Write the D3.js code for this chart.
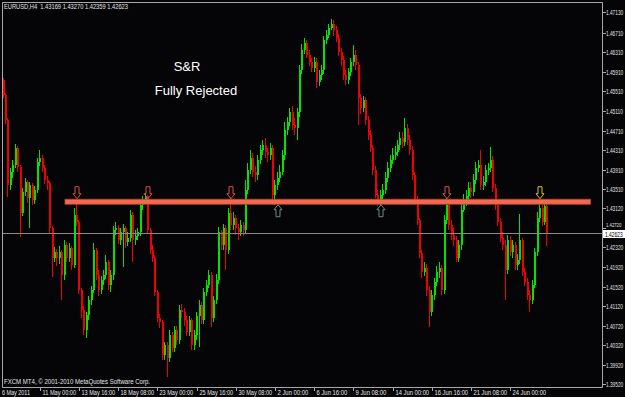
<!DOCTYPE html>
<html>
<head>
<meta charset="utf-8">
<script src="https://cdn.jsdelivr.net/npm/d3@7"></script>
<style>
html, body { margin: 0; padding: 0; background: #050508; }
svg { display: block; }
text { font-family: "Liberation Sans", Arial, sans-serif; }
</style>
</head>
<body>
<svg id="chart" width="625" height="397"></svg>
<script>
// EURUSD H4, 6 May 2011 .. 24 Jun 2011 (one value per bar)
const symbol = "EURUSD,H4";
const firstOpen = 1.4574;

const closes = [
  1.4544,1.4492,1.4360,1.4386,1.4401,1.4436,1.4397,1.4302,1.4345,1.4366,
  1.4333,1.4360,1.4329,1.4349,1.4407,1.4415,1.4395,1.4370,1.4364,1.4272,
  1.4211,1.4223,1.4211,1.4223,1.4176,1.4237,1.4211,1.4231,1.4196,1.4298,
  1.4284,1.4145,1.4104,1.4063,1.4094,1.4124,1.4145,1.4227,1.4176,1.4145,
  1.4165,1.4176,1.4202,1.4155,1.4176,1.4267,1.4272,1.4247,1.4263,1.4272,
  1.4243,1.4251,1.4298,1.4247,1.4255,1.4263,1.4319,1.4329,1.4337,1.4267,
  1.4227,1.4211,1.4141,1.4088,1.4079,1.4012,1.4032,1.4006,1.4053,1.4026,
  1.4063,1.4042,1.4104,1.4100,1.4083,1.4059,1.4083,1.4032,1.4053,1.4092,
  1.4114,1.4083,1.4141,1.4155,1.4176,1.4088,1.4124,1.4165,1.4263,1.4237,
  1.4272,1.4227,1.4302,1.4278,1.4292,1.4272,1.4263,1.4278,1.4267,1.4349,
  1.4390,1.4415,1.4386,1.4380,1.4411,1.4431,1.4442,1.4427,1.4421,1.4436,
  1.4339,1.4360,1.4374,1.4386,1.4421,1.4472,1.4488,1.4509,1.4482,1.4476,
  1.4509,1.4595,1.4636,1.4650,1.4626,1.4611,1.4599,1.4611,1.4570,1.4585,
  1.4595,1.4656,1.4667,1.4681,1.4689,1.4677,1.4661,1.4632,1.4615,1.4585,
  1.4574,1.4591,1.4611,1.4626,1.4605,1.4538,1.4517,1.4533,1.4492,1.4462,
  1.4436,1.4390,1.4339,1.4325,1.4339,1.4349,1.4374,1.4395,1.4411,1.4421,
  1.4427,1.4442,1.4456,1.4448,1.4476,1.4452,1.4431,1.4380,1.4329,1.4288,
  1.4221,1.4182,1.4190,1.4145,1.4100,1.4135,1.4161,1.4182,1.4190,1.4145,
  1.4288,1.4319,1.4278,1.4257,1.4247,1.4211,1.4237,1.4308,1.4329,1.4337,
  1.4354,1.4345,1.4370,1.4395,1.4401,1.4360,1.4366,1.4390,1.4395,1.4411,
  1.4354,1.4319,1.4284,1.4251,1.4237,1.4186,1.4247,1.4223,1.4237,1.4196,
  1.4206,1.4247,1.4182,1.4161,1.4135,1.4124,1.4155,1.4223,1.4292,1.4313,
  1.4284,1.43169,1.42623
];

const highs = [
  1.4579,1.4548,1.4497,1.4395,1.4411,1.4444,1.4440,1.4401,1.4354,1.4374,
  1.4370,1.4366,1.4364,1.4358,1.4415,1.4431,1.4421,1.4401,1.4378,1.4368,
  1.4276,1.4233,1.4229,1.4235,1.4227,1.4247,1.4243,1.4241,1.4235,1.4313,
  1.4329,1.4288,1.4149,1.4112,1.4100,1.4133,1.4153,1.4241,1.4231,1.4186,
  1.4174,1.4186,1.4217,1.4206,1.4186,1.4276,1.4284,1.4278,1.4272,1.4280,
  1.4276,1.4263,1.4308,1.4304,1.4267,1.4272,1.4329,1.4337,1.4343,1.4339,
  1.4272,1.4237,1.4217,1.4145,1.4096,1.4083,1.4038,1.4038,1.4063,1.4059,
  1.4071,1.4071,1.4114,1.4116,1.4108,1.4092,1.4092,1.4088,1.4063,1.4100,
  1.4124,1.4120,1.4149,1.4165,1.4186,1.4182,1.4133,1.4178,1.4274,1.4267,
  1.4280,1.4278,1.4313,1.4335,1.4304,1.4298,1.4280,1.4288,1.4284,1.4370,
  1.4405,1.4431,1.4425,1.4399,1.4421,1.4442,1.4452,1.4456,1.4436,1.4446,
  1.4442,1.4370,1.4386,1.4401,1.4431,1.4488,1.4499,1.4517,1.4521,1.4497,
  1.4517,1.4605,1.4648,1.4661,1.4656,1.4636,1.4620,1.4622,1.4620,1.4595,
  1.4605,1.4665,1.4677,1.4689,1.4700,1.4697,1.4685,1.4669,1.4640,1.4624,
  1.4595,1.4599,1.4620,1.4646,1.4636,1.4611,1.4546,1.4542,1.4540,1.4501,
  1.4472,1.4442,1.4399,1.4349,1.4349,1.4362,1.4386,1.4407,1.4421,1.4436,
  1.4440,1.4452,1.4468,1.4468,1.4497,1.4484,1.4462,1.4440,1.4386,1.4337,
  1.4292,1.4227,1.4202,1.4198,1.4153,1.4145,1.4169,1.4194,1.4202,1.4196,
  1.4298,1.4333,1.4325,1.4288,1.4272,1.4255,1.4247,1.4321,1.4341,1.4349,
  1.4366,1.4366,1.4382,1.4407,1.4411,1.4431,1.4378,1.4401,1.4405,1.4438,
  1.4419,1.4362,1.4329,1.4292,1.4263,1.4247,1.4257,1.4255,1.4247,1.4243,
  1.4219,1.4300,1.4251,1.4190,1.4169,1.4145,1.4165,1.4231,1.4304,1.4321,
  1.4319,1.4323,1.43270
];

const lows = [
  1.4538,1.4484,1.4335,1.4349,1.4374,1.4395,1.4386,1.4253,1.4296,1.4337,
  1.4323,1.4272,1.4319,1.4321,1.4343,1.4399,1.4386,1.4362,1.4349,1.4261,
  1.4172,1.4202,1.4194,1.4198,1.4124,1.4165,1.4202,1.4202,1.4186,1.4190,
  1.4276,1.4137,1.4088,1.4053,1.4047,1.4083,1.4114,1.4139,1.4165,1.4133,
  1.4137,1.4155,1.4168,1.4145,1.4141,1.4165,1.4257,1.4239,1.4237,1.4192,
  1.4231,1.4235,1.4243,1.4202,1.4237,1.4247,1.4255,1.4308,1.4321,1.4259,
  1.4219,1.4202,1.4133,1.4079,1.4067,1.4001,1.4001,1.3967,1.3997,1.4018,
  1.4018,1.4032,1.4034,1.4088,1.4071,1.4051,1.4051,1.4022,1.4022,1.4042,
  1.4028,1.4075,1.4075,1.4133,1.4149,1.4069,1.4079,1.4116,1.4157,1.4227,
  1.4227,1.4186,1.4219,1.4267,1.4267,1.4257,1.4247,1.4255,1.4255,1.4261,
  1.4341,1.4382,1.4376,1.4366,1.4370,1.4403,1.4421,1.4415,1.4407,1.4411,
  1.4319,1.4319,1.4349,1.4366,1.4380,1.4411,1.4462,1.4480,1.4472,1.4462,
  1.4452,1.4499,1.4587,1.4628,1.4620,1.4603,1.4591,1.4591,1.4558,1.4562,
  1.4574,1.4587,1.4648,1.4661,1.4677,1.4665,1.4652,1.4624,1.4603,1.4574,
  1.4564,1.4566,1.4583,1.4603,1.4595,1.4482,1.4505,1.4509,1.4482,1.4452,
  1.4427,1.4380,1.4333,1.4317,1.4317,1.4329,1.4341,1.4366,1.4386,1.4403,
  1.4411,1.4419,1.4431,1.4436,1.4440,1.4442,1.4421,1.4370,1.4319,1.4278,
  1.4211,1.4170,1.4174,1.4133,1.4069,1.4092,1.4124,1.4153,1.4169,1.4135,
  1.4137,1.4280,1.4267,1.4247,1.4235,1.4202,1.4202,1.4227,1.4304,1.4317,
  1.4329,1.4333,1.4337,1.4362,1.4386,1.4349,1.4349,1.4358,1.4380,1.4386,
  1.4345,1.4308,1.4276,1.4243,1.4227,1.4124,1.4178,1.4215,1.4211,1.4186,
  1.4186,1.4198,1.4174,1.4153,1.4124,1.4100,1.4116,1.4149,1.4215,1.4284,
  1.4276,1.4278,1.42359
];

const timeLabels = ["6 May 2011","11 May 00:00","13 May 16:00","18 May 08:00","23 May 00:00",
  "25 May 16:00","30 May 08:00","2 Jun 00:00","6 Jun 16:00","9 Jun 08:00","14 Jun 00:00",
  "16 Jun 16:00","21 Jun 08:00","24 Jun 00:00"];
const timeLabelBars = [0,16,32,48,64,80,96,112,128,144,160,176,192,208];

const priceLabels = ["1.47130","1.46710","1.46310","1.45910","1.45510","1.45110","1.44710",
  "1.44310","1.43910","1.43510","1.43120","1.42720","1.42320","1.41920","1.41520",
  "1.41120","1.40720","1.40320","1.39920","1.39520"];

// support / resistance line and the marks on it
const srLevel = 1.43255;
const srFromBar = 25.5, srToBar = 240;
const downArrowBars = [30, 59, 93, 181, 219];
const downArrowColors = ["#d9532e", "#d9532e", "#d9532e", "#d9532e", "#d8c21a"];
const upArrowBars = [112, 154];

const notes = ["S&R", "Fully Rejected"];

//------------ setup ------------------------------------------------------------//
const svg = d3.select("#chart");
const W = 625, H = 397;
const plot = {left: 2, top: 2, right: 602, bottom: 387};

const x = d3.scaleLinear().domain([0, 222]).range([2.5, 546.4]);
const y = d3.scaleLinear().domain([1.3952, 1.4713]).range([384.3, 12.3]);

const bull = "#00e400", bear = "#f00000";
const textColor = "#e4e4e4";

const bars = closes.map((c, i) => ({
    i: i,
    open: i === 0 ? firstOpen : closes[i - 1],
    high: highs[i],
    low: lows[i],
    close: c
}));

svg.append("rect").attr("width", W).attr("height", H).attr("fill", "#050508");

svg.append("defs").append("clipPath").attr("id", "plotClip")
    .append("rect")
    .attr("x", plot.left + 1).attr("y", plot.top + 1)
    .attr("width", plot.right - plot.left - 1)
    .attr("height", plot.bottom - plot.top - 1);

const layer = svg.append("g").attr("clip-path", "url(#plotClip)");

//------------ candles ----------------------------------------------------------//
const candles = layer.append("g")
    .attr("shape-rendering", "crispEdges")
    .selectAll("g")
    .data(bars)
    .join("g");

candles.append("line")
    .attr("x1", d => Math.round(x(d.i)) + 0.5)
    .attr("x2", d => Math.round(x(d.i)) + 0.5)
    .attr("y1", d => y(d.high))
    .attr("y2", d => y(d.low))
    .attr("stroke", d => d.close >= d.open ? bull : bear)
    .attr("stroke-width", 1);

candles.append("rect")
    .attr("x", d => Math.round(x(d.i)))
    .attr("y", d => y(Math.max(d.open, d.close)))
    .attr("width", 2)
    .attr("height", d => Math.max(1, Math.abs(y(d.open) - y(d.close))))
    .attr("fill", d => d.close >= d.open ? bull : bear);

//------------ current price line -----------------------------------------------//
const last = bars[bars.length - 1];
layer.append("line")
    .attr("x1", plot.left).attr("x2", plot.right)
    .attr("y1", Math.round(y(last.close)) + 0.5)
    .attr("y2", Math.round(y(last.close)) + 0.5)
    .attr("stroke", "#8a8a8a").attr("stroke-width", 1);

//------------ S&R band and arrows ----------------------------------------------//
const srY = y(srLevel);
layer.append("rect")
    .attr("x", x(srFromBar))
    .attr("y", srY - 2.5)
    .attr("width", x(srToBar) - x(srFromBar))
    .attr("height", 5)
    .attr("fill", "#f36a4f")
    .attr("stroke", "#b8432c")
    .attr("stroke-width", 0.8);

const downPath = "M-2,-12L2,-12L2,-5L4,-5L0,0L-4,-5L-2,-5Z";
const upPath = "M-2,12L2,12L2,5L4,5L0,0L-4,5L-2,5Z";

layer.append("g").selectAll("path")
    .data(downArrowBars)
    .join("path")
    .attr("d", downPath)
    .attr("transform", d => `translate(${Math.round(x(d)) + 1},${srY - 3})`)
    .attr("fill", "none")
    .attr("stroke", (d, k) => downArrowColors[k])
    .attr("stroke-width", 1);

layer.append("g").selectAll("path")
    .data(upArrowBars)
    .join("path")
    .attr("d", upPath)
    .attr("transform", d => `translate(${Math.round(x(d)) + 1},${srY + 3})`)
    .attr("fill", "none")
    .attr("stroke", "#6f8c80")
    .attr("stroke-width", 1);

//------------ notes ------------------------------------------------------------//
svg.append("text").text(notes[0])
    .attr("x", 187).attr("y", 71)
    .attr("text-anchor", "middle")
    .attr("font-size", 13).attr("fill", "#ffffff");
svg.append("text").text(notes[1])
    .attr("x", 196).attr("y", 95)
    .attr("text-anchor", "middle")
    .attr("font-size", 13).attr("fill", "#ffffff");

//------------ frame ------------------------------------------------------------//
const frameColor = "#a8a8a8";
svg.append("path")
    .attr("d", `M${plot.left + 0.5},${plot.bottom + 0.5}V${plot.top + 0.5}H${plot.right + 0.5}V${plot.bottom + 0.5}H${plot.left + 0.5}`)
    .attr("fill", "none").attr("stroke", frameColor).attr("stroke-width", 1);

//------------ price axis -------------------------------------------------------//
// labels are squeezed sideways so that they fit the 20px strip right of the axis
const pAxis = svg.append("g").attr("class", "price-axis");
const lastY = Math.round(y(last.close));
priceLabels.forEach(lbl => {
    const py = Math.round(y(+lbl)) + 0.5;
    pAxis.append("line")
        .attr("x1", plot.right + 1).attr("x2", plot.right + 4)
        .attr("y1", py).attr("y2", py)
        .attr("stroke", frameColor);
    // the label right under the quote box is only partly visible
    const hidden = Math.abs(py - lastY) < 6;
    pAxis.append("text").text(lbl)
        .attr("transform", `translate(${plot.right + 4},${hidden ? py - 1.5 : py + 2.5}) scale(${hidden ? 0.85 : 0.68},1)`)
        .attr("font-size", hidden ? 5 : 7)
        .attr("fill", textColor);
});

pAxis.append("rect")
    .attr("x", plot.right + 1).attr("y", lastY - 3)
    .attr("width", W - plot.right).attr("height", 8)
    .attr("fill", "#ffffff");
pAxis.append("text").text(last.close.toFixed(5))
    .attr("transform", `translate(${plot.right + 3},${lastY + 4}) scale(0.7,1)`)
    .attr("font-size", 7).attr("fill", "#000000");

//------------ time axis --------------------------------------------------------//
const tAxis = svg.append("g").attr("class", "time-axis");
timeLabels.forEach((lbl, k) => {
    const tx = Math.round(x(timeLabelBars[k])) - 1.5;
    if (k > 0) {
        tAxis.append("line")
            .attr("x1", tx).attr("x2", tx)
            .attr("y1", plot.bottom + 1).attr("y2", plot.bottom + 4)
            .attr("stroke", frameColor);
    }
    tAxis.append("text").text(lbl)
        .attr("x", k === 0 ? 2 : tx + 2).attr("y", 395)
        .attr("font-size", 7).attr("fill", textColor)
        .attr("textLength", lbl.length * 2.8).attr("lengthAdjust", "spacingAndGlyphs");
});

//------------ header / footer text ---------------------------------------------//
svg.append("text")
    .text(`${symbol}  ${last.open.toFixed(5)} ${last.high.toFixed(5)} ${last.low.toFixed(5)} ${last.close.toFixed(5)}`)
    .attr("x", 4).attr("y", 9)
    .attr("font-size", 7).attr("fill", textColor)
    .attr("xml:space", "preserve")
    .attr("textLength", 124).attr("lengthAdjust", "spacingAndGlyphs");

svg.append("text")
    .text("FXCM MT4, \u00a9 2001-2010 MetaQuotes Software Corp.")
    .attr("x", 4).attr("y", 384)
    .attr("font-size", 7).attr("fill", textColor)
    .attr("textLength", 146).attr("lengthAdjust", "spacingAndGlyphs");
</script>
</body>
</html>
